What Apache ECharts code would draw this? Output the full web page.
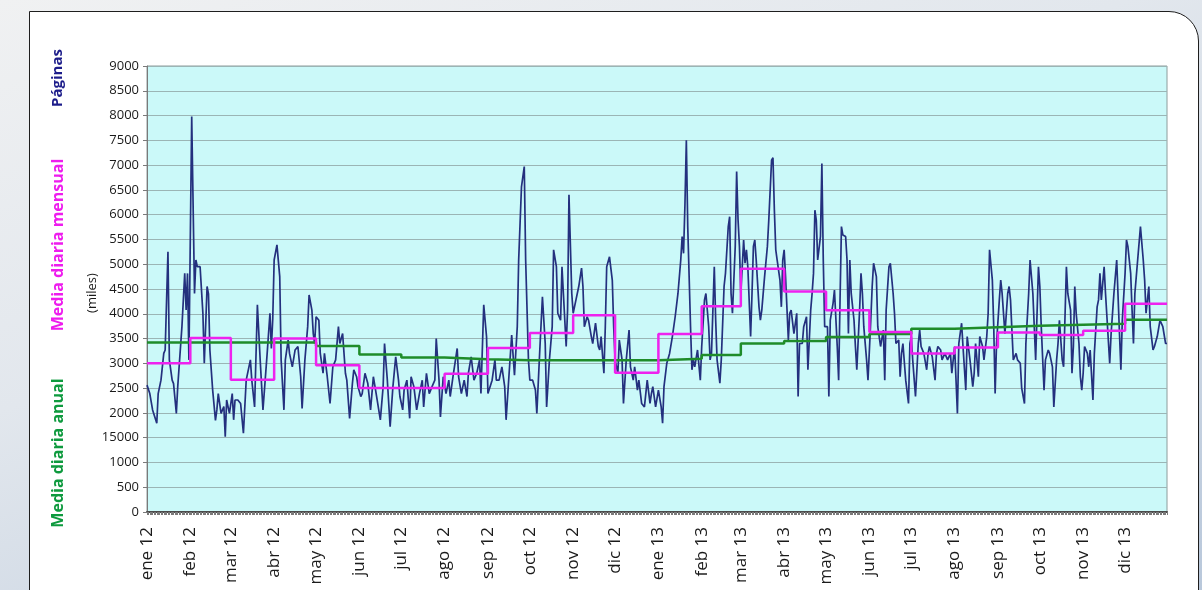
<!DOCTYPE html>
<html>
<head>
<meta charset="utf-8">
<script src="https://cdn.jsdelivr.net/npm/echarts@6/dist/echarts.min.js"></script>
<style>
  html, body { margin: 0; padding: 0; }
  body {
    width: 1202px; height: 590px; overflow: hidden; position: relative;
    background: linear-gradient(160deg, #f0f1f2 0%, #e2e7ed 40%, #b9c8db 100%);
  }
  #tarjeta {
    position: absolute; left: 29px; top: 11px; width: 1168px; height: 700px;
    background: #fff; border: 1.5px solid #1e1e1e; border-top-right-radius: 30px;
  }
  #chart { position: absolute; left: 0; top: 0; width: 1202px; height: 590px; }
</style>
</head>
<body>
<div id="tarjeta"></div>
<div id="chart"></div>
<script>
// etiquetas de los meses (eje X)
const meses = ['ene 12', 'feb 12', 'mar 12', 'abr 12', 'may 12', 'jun 12', 'jul 12', 'ago 12', 'sep 12', 'oct 12', 'nov 12', 'dic 12',
               'ene 13', 'feb 13', 'mar 13', 'abr 13', 'may 13', 'jun 13', 'jul 13', 'ago 13', 'sep 13', 'oct 13', 'nov 13', 'dic 13']

// media diaria de cada mes (miles)
const mediaMensual = [3000, 3510, 2670, 3500, 2960, 2500, 2500, 2790, 3310, 3610, 3970, 2810,
                      3590, 4150, 4910, 4450, 4070, 3630, 3200, 3320, 3620, 3570, 3660, 4200]

// media diaria anual, mes a mes (miles)
const mediaAnual = [3420, 3420, 3420, 3420, 3350, 3180, 3120, 3080, 3060, 3060, 3060, 3060,
                    3090, 3170, 3400, 3450, 3530, 3590, 3700, 3730, 3760, 3780, 3800, 3880]

// páginas vistas (miles): [día del año desde el 1 de enero, valor]
const paginas2012 = [
  [0,2560],[2,2390],[4,2060],[7,1790],[8,2390],[10,2660],[12,3200],[13,3270],[15,5250],[16,3070],[18,2660],[19,2590],
  [21,1990],[22,2530],[25,3740],[27,4815],[28,4075],[29,4815],[30,3070],[32,7980],[34,4410],[35,5085],[36,4950],[38,4950],
  [40,4010],[41,3000],[43,4550],[44,4400],[45,3270],[47,2460],[49,1850],[50,2060],[51,2390],[53,1990],[55,2130],[56,1520],
  [57,2260],[59,1990],[61,2390],[62,1860],[63,2260],[65,2260],[67,2190],[69,1590],[71,2660],[74,3070],[75,2660],[77,2120],
  [79,4180],[81,3070],[83,2060],[86,3200],[88,4010],[89,3300],[90,3900],[91,5085],[93,5390],[95,4750],[96,3070],[98,2060],
  [99,3070],[101,3470],[102,3200],[104,2930],[106,3270],[108,3340],[110,2730],[111,2090],[113,3070],[115,3740],[116,4380],
  [118,4075],[119,3600],[120,3400],[121,3940],[123,3870],[124,3200],[126,2800],[127,3200],[129,2730],[131,2190],[133,2930],
  [135,3070],[137,3740],[138,3400],[140,3600],[142,2800],[143,2660],[145,1890],[147,2590],[148,2870],[150,2730],[151,2530],
  [153,2330],[154,2390],[156,2800],[158,2600],[160,2060],[162,2730],[164,2390],[167,1860],[169,2530],[170,3400],[172,2660],
  [174,1720],[176,2530],[178,3130],[180,2660],[181,2330],[183,2060],[184,2460],[186,2660],[188,1890],[189,2730],[191,2530],
  [193,2060],[195,2390],[197,2660],[198,2120],[200,2800],[202,2390],[204,2530],[206,2660],[207,3500],[209,2660],[210,1920],
  [212,2730],[214,2390],[216,2660],[217,2330],[219,2730],[222,3300],[223,2730],[225,2390],[227,2660],[229,2330],[230,2800],
  [232,3130],[234,2660],[236,2800],[238,3070],[239,2390],[241,4180],[243,3540],[244,2390],[247,2660],[249,3070],[250,2660],
  [252,2660],[254,2930],[256,2530],[257,1860],[259,2730],[261,3570],[263,2760],[265,3740],[266,5085],[268,6560],[270,6970],
  [271,5085],[273,3070],[274,2660],[276,2660],[278,2460],[279,1990],[281,3200],[283,4345],[285,3400],[286,2120],[288,3070],
  [290,3740],[291,5290],[293,4950],[294,4010],[296,3870],[297,4950],[298,4410],[300,3340],[301,4075],[302,6400],[304,4410],
  [305,4010],[307,4280],[309,4550],[311,4920],[312,4550],[313,3740],[315,3940],[316,3870],[318,3540],[319,3400],[321,3810],
  [323,3340],[324,3270],[325,3540],[327,2800],[328,3740],[329,4950],[331,5150],[333,4680],[334,3740],[335,3070],[337,2800],
  [338,3470],[340,3070],[341,2190],[343,3070],[345,3670],[346,2930],[348,2660],[349,2930],[351,2460],[352,2660],[354,2190],
  [356,2120],[358,2660],[360,2190],[361,2390],[362,2530],[364,2120]
]
const paginas2013 = [
  [0,2460],[2,2120],[3,1790],[4,2530],[6,3000],[8,3200],[10,3540],[12,3940],[14,4410],[16,5085],[17,5560],[18,5220],
  [19,6200],[20,7500],[21,5760],[23,3740],[24,2870],[25,3070],[26,2930],[28,3270],[30,2660],[31,3340],[33,4280],[34,4410],
  [36,3740],[37,3070],[38,3200],[40,4950],[41,3870],[42,3070],[44,2600],[45,3070],[47,4550],[48,4815],[50,5760],[51,5960],
  [52,4410],[53,4010],[55,5360],[56,6870],[57,5900],[58,5360],[59,4410],[61,5490],[62,5020],[63,5290],[64,4950],[66,3540],
  [67,4410],[68,5360],[69,5490],[70,5085],[72,4140],[73,3870],[74,4075],[76,4750],[78,5360],[79,5890],[80,5900],[81,7100],
  [82,7150],[83,6090],[84,5290],[85,5085],[87,4680],[88,4140],[89,5085],[90,5290],[91,4750],[93,3470],[94,4010],[95,4075],
  [97,3600],[99,4010],[100,2330],[101,3400],[103,3400],[104,3740],[106,3940],[107,2870],[109,4075],[110,4410],[111,4815],
  [112,6090],[113,5890],[114,5085],[116,5560],[117,7030],[118,5085],[119,3740],[121,3740],[122,2330],[123,3870],[124,3870],
  [125,4210],[126,4480],[128,3340],[129,2660],[130,4280],[131,5760],[132,5590],[134,5560],[135,5085],[136,3600],[137,5085],
  [138,4410],[140,3870],[141,3340],[142,2870],[144,4075],[145,4815],[146,4410],[147,3740],[149,3070],[150,2660],[152,3870],
  [153,4550],[154,5020],[156,4750],[157,3740],[159,3340],[161,3670],[162,2660],[163,4075],[165,4950],[166,5020],[168,4410],
  [169,4000],[170,3400],[172,3470],[173,2730],[174,3200],[175,3400],[177,2660],[179,2190],[180,3400],[181,3540],[182,3070],
  [184,2330],[186,3400],[187,3670],[188,3340],[190,3200],[192,2870],[193,3200],[194,3340],[196,3130],[198,2660],[199,3200],
  [200,3340],[202,3270],[203,3070],[205,3200],[207,3070],[209,3200],[210,2800],[212,3340],[214,1990],[215,3400],[217,3810],
  [218,3340],[220,2460],[221,3540],[223,3070],[225,2530],[226,2800],[227,3400],[229,2730],[230,3540],[232,3340],[233,3070],
  [235,3540],[236,4010],[237,5290],[239,4680],[240,3740],[241,2390],[242,3400],[244,4280],[245,4680],[246,4410],[248,3600],
  [250,4410],[251,4550],[252,4280],[254,3070],[256,3200],[257,3070],[259,3000],[260,2500],[262,2190],[263,3400],[265,4410],
  [266,5085],[268,4410],[269,3740],[270,3070],[272,4950],[273,4550],[274,3740],[276,2460],[277,3070],[279,3270],[280,3200],
  [282,2930],[283,2120],[285,3070],[286,3400],[287,3870],[289,3070],[290,2930],[292,4950],[293,4410],[295,4075],[296,2800],
  [297,3340],[298,4550],[299,4010],[301,3400],[302,2730],[303,2460],[304,2800],[305,3340],[307,3200],[308,2930],[309,3270],
  [311,2260],[312,3200],[314,4140],[315,4280],[316,4815],[317,4280],[319,4950],[320,4410],[321,3940],[323,3000],[324,3600],
  [326,4410],[328,5085],[330,3600],[331,2870],[332,3870],[334,4815],[335,5490],[336,5360],[338,4815],[339,4075],[340,3400],
  [341,4410],[343,5085],[345,5760],[347,5085],[348,4680],[349,4010],[351,4550],[352,3740],[354,3270],[355,3340],[357,3540],
  [359,3870],[361,3740],[363,3400],[364,3400]
]

// categorías: un día por posición, del 1 ene 2012 al 31 dic 2013
const dias = []
for (let t = Date.UTC(2012, 0, 1); t <= Date.UTC(2013, 11, 31); t += 86400000) {
  dias.push(new Date(t).toISOString().slice(0, 10))
}
const dias2012 = dias.filter(d => d.startsWith('2012')).length
const inicioMes = []
dias.forEach((d, i) => { if (d.endsWith('-01')) inicioMes.push(i) })
const ultimo = dias.length - 1

const serieDiaria = paginas2012.map(p => [p[0], p[1]])
  .concat(paginas2013.map(p => [p[0] + dias2012, p[1]]))

function escalones(valores) {
  const datos = valores.map((v, i) => [inicioMes[i], v])
  datos.push([ultimo, valores[valores.length - 1]])
  return datos
}

const chart = echarts.init(document.getElementById('chart'), null, { renderer: 'canvas' })

const fuente = 'Open Sans'

const option = {
  animation: false,
  backgroundColor: 'transparent',
  textStyle: { fontFamily: fuente },
  grid: {
    left: 147, right: 35, top: 66, bottom: 78,
    show: true, backgroundColor: '#cbf9f9', borderColor: '#8c9c9c', borderWidth: 1
  },
  xAxis: {
    type: 'category',
    data: dias,
    boundaryGap: false,
    axisLine: { lineStyle: { color: '#4a4a4a', width: 2 } },
    axisTick: { show: true, interval: 0, length: 3, lineStyle: { color: '#7a7a7a' } },
    axisLabel: {
      interval: (i, v) => v.endsWith('-01'),
      rotate: 90,
      margin: 15,
      fontSize: 17,
      color: '#1a1a1a',
      fontFamily: fuente,
      formatter: v => meses[(+v.slice(0, 4) - 2012) * 12 + (+v.slice(5, 7)) - 1]
    },
    splitLine: { show: false }
  },
  yAxis: {
    type: 'value',
    min: 0, max: 9000, interval: 500,
    axisLine: { show: true, lineStyle: { color: '#7a7a7a' } },
    axisTick: { show: true, length: 4, lineStyle: { color: '#7a7a7a' } },
    axisLabel: {
      fontSize: 13, color: '#1a1a1a', margin: 8, fontFamily: fuente,
      formatter: v => (v === 1500 ? '15000' : String(v))
    },
    splitLine: { lineStyle: { color: '#9bb5b5', width: 1 } }
  },
  graphic: [
    { type: 'text', x: 58, y: 78, rotation: Math.PI / 2,
      style: { text: 'Páginas', fill: '#1c1c8a', font: 'bold 15px "Open Sans"', align: 'center', verticalAlign: 'middle' } },
    { type: 'text', x: 58, y: 245, rotation: Math.PI / 2,
      style: { text: 'Media diaria mensual', fill: '#ee1cee', font: 'bold 16px "Open Sans"', align: 'center', verticalAlign: 'middle' } },
    { type: 'text', x: 58, y: 453, rotation: Math.PI / 2,
      style: { text: 'Media diaria anual', fill: '#0e9a3e', font: 'bold 16px "Open Sans"', align: 'center', verticalAlign: 'middle' } },
    { type: 'text', x: 92, y: 293, rotation: Math.PI / 2,
      style: { text: '(miles)', fill: '#1a1a1a', font: '13px "Open Sans"', align: 'center', verticalAlign: 'middle' } }
  ],
  series: [
    {
      name: 'Páginas',
      type: 'line',
      data: serieDiaria,
      symbol: 'none',
      lineStyle: { color: '#24307e', width: 1.7 }
    },
    {
      name: 'Media diaria anual',
      type: 'line',
      step: 'end',
      data: escalones(mediaAnual),
      symbol: 'none',
      lineStyle: { color: '#1f8c2a', width: 2.5 }
    },
    {
      name: 'Media diaria mensual',
      type: 'line',
      step: 'end',
      data: escalones(mediaMensual),
      symbol: 'none',
      lineStyle: { color: '#ee22ee', width: 2.5 }
    }
  ]
}

chart.setOption(option)
</script>
</body>
</html>
